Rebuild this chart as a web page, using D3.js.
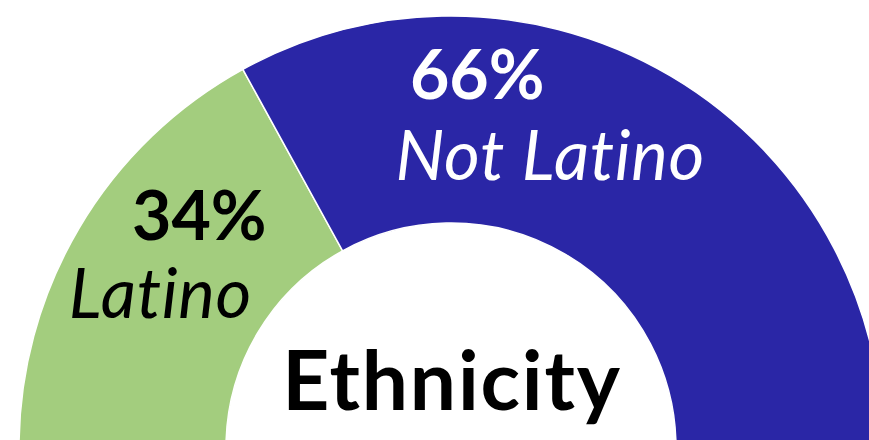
<!DOCTYPE html>
<html>
<head>
<meta charset="utf-8">
<script src="https://cdn.jsdelivr.net/npm/d3@7"></script>
<style>
  html, body { margin: 0; padding: 0; background: #fff; }
  #chart { width: 869px; height: 440px; overflow: hidden; }
  text { font-family: Lato, "Open Sans", sans-serif; }
</style>
</head>
<body>
<div id="chart"></div>
<script>
// data
const categories = ["Latino", "Not Latino"];
const values = [34, 66];
const pctLabels = ["34%", "66%"];
const colors = ["#a3cd7e", "#2a26a6"];
const title = "Ethnicity";

const width = 869, height = 440;
const cx = 451, cy = 448;
const outerR = 432, innerR = 225;

const dataset = categories.map((c, i) => ({ name: c, value: values[i], pct: pctLabels[i], color: colors[i] }));

const svg = d3.select("#chart")
    .append("svg")
    .attr("width", width)
    .attr("height", height);

const g = svg.append("g")
    .attr("transform", `translate(${cx},${cy})`);

const pie = d3.pie()
    .sort(null)
    .value(d => d.value)
    .startAngle(-Math.PI / 2)
    .endAngle(Math.PI / 2);

const arc = d3.arc().innerRadius(innerR).outerRadius(outerR);

const arcs = pie(dataset);

g.selectAll("path")
    .data(arcs)
    .enter()
    .append("path")
    .attr("d", arc)
    .attr("fill", d => d.data.color)
    .attr("stroke", "#fff")
    .attr("stroke-width", 1.5);

// label offsets relative to the slice centroid (pct line, name line)
const labelOffsets = [
    { pct: [31, -41], name: [-8, 37], fill: "#000" },
    { pct: [-141, -66], name: [-68, 15], fill: "#fff" }
];

arcs.forEach((d, i) => {
    const [x, y] = arc.centroid(d);
    const o = labelOffsets[i];
    g.append("text")
        .attr("x", x + o.pct[0])
        .attr("y", y + o.pct[1])
        .attr("text-anchor", "middle")
        .attr("font-size", 68)
        .attr("font-weight", "bold")
        .attr("fill", o.fill)
        .text(d.data.pct);
    g.append("text")
        .attr("x", x + o.name[0])
        .attr("y", y + o.name[1])
        .attr("text-anchor", "middle")
        .attr("font-size", 69)
        .attr("font-style", "italic")
        .attr("letter-spacing", 0.6)
        .attr("fill", o.fill)
        .text(d.data.name);
});

g.append("text")
    .attr("x", 1)
    .attr("y", -38)
    .attr("text-anchor", "middle")
    .attr("font-size", 82)
    .attr("font-weight", "bold")
    .attr("letter-spacing", 1.8)
    .attr("fill", "#000")
    .text(title);
</script>
</body>
</html>
